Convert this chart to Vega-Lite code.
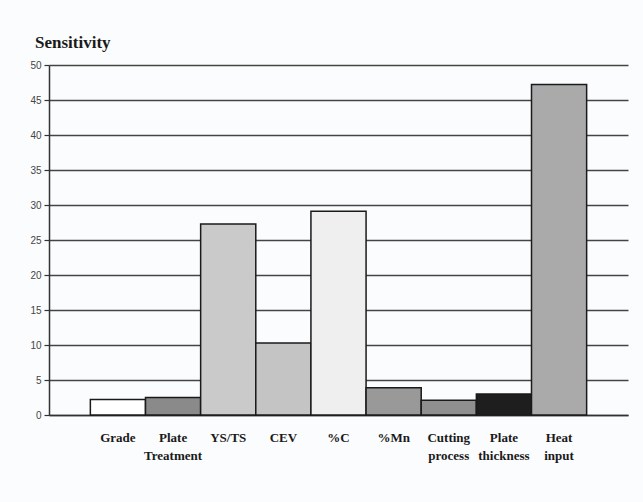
{
  "$schema": "https://vega.github.io/schema/vega-lite/v6.json",
  "autosize": "none",
  "width": 579,
  "height": 350,
  "padding": {"left": 49, "top": 65, "right": 15, "bottom": 87},
  "background": "#fbfcfd",
  "title": {
    "text": "Sensitivity",
    "anchor": "start",
    "frame": "group",
    "font": "Liberation Serif",
    "fontSize": 17,
    "fontWeight": "bold",
    "color": "#1a1a1a",
    "dx": -14,
    "offset": 8
  },
  "data": {
    "values": [
      {"factor": "Grade", "sensitivity": 2.2},
      {"factor": "Plate|Treatment", "sensitivity": 2.5},
      {"factor": "YS/TS", "sensitivity": 27.3},
      {"factor": "CEV", "sensitivity": 10.3},
      {"factor": "%C", "sensitivity": 29.1},
      {"factor": "%Mn", "sensitivity": 3.9},
      {"factor": "Cutting|process", "sensitivity": 2.1},
      {"factor": "Plate|thickness", "sensitivity": 3.0},
      {"factor": "Heat|input", "sensitivity": 47.2}
    ]
  },
  "mark": {"type": "bar", "stroke": "#1a1a1a", "strokeWidth": 1.5},
  "encoding": {
    "x": {
      "field": "factor",
      "type": "nominal",
      "sort": null,
      "scale": {"paddingInner": 0, "paddingOuter": 0.75},
      "axis": {
        "title": null,
        "labelAngle": 0,
        "labelExpr": "split(datum.label, '|')",
        "labelFont": "Liberation Serif",
        "labelFontWeight": "bold",
        "labelFontSize": 13,
        "labelColor": "#1a1a1a",
        "labelPadding": 22,
        "labelLineHeight": 18,
        "labelBaseline": "middle",
        "ticks": false,
        "domainColor": "#333333",
        "domainWidth": 1.5
      }
    },
    "y": {
      "field": "sensitivity",
      "type": "quantitative",
      "scale": {"domain": [0, 50], "nice": false},
      "axis": {
        "title": null,
        "values": [0, 5, 10, 15, 20, 25, 30, 35, 40, 45, 50],
        "grid": true,
        "gridColor": "#444444",
        "gridWidth": 1.5,
        "gridOpacity": 1,
        "domainColor": "#333333",
        "domainWidth": 1.5,
        "tickColor": "#333333",
        "tickSize": 5,
        "tickWidth": 1.2,
        "labelFont": "Liberation Sans",
        "labelFontSize": 10,
        "labelColor": "#444444",
        "labelPadding": 3
      }
    },
    "fill": {
      "field": "factor",
      "type": "nominal",
      "legend": null,
      "scale": {
        "domain": ["Grade", "Plate|Treatment", "YS/TS", "CEV", "%C", "%Mn", "Cutting|process", "Plate|thickness", "Heat|input"],
        "range": ["#ffffff", "#8a8a8a", "#cacaca", "#c4c4c4", "#efefef", "#999999", "#8f8f8f", "#1e1e1e", "#aaaaaa"]
      }
    }
  },
  "config": {
    "view": {"stroke": null},
    "bar": {"fillOpacity": 1}
  }
}
